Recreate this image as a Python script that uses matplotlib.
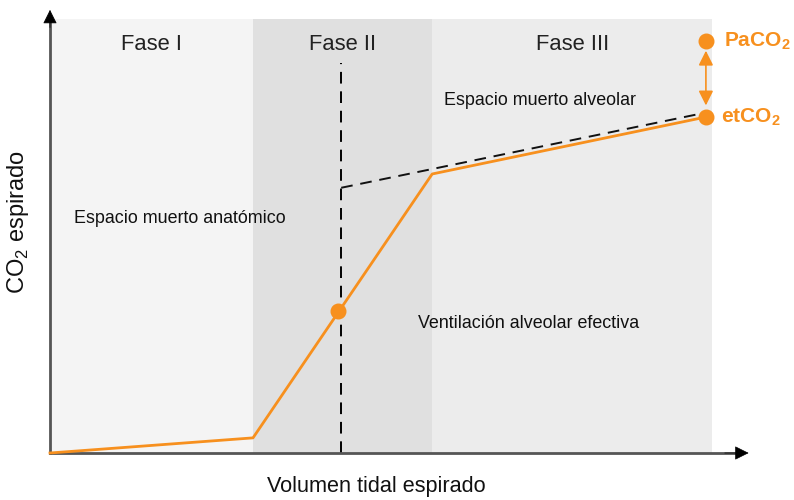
import matplotlib
matplotlib.use("Agg")
import matplotlib.pyplot as plt

plt.rcParams['font.family'] = ['Liberation Sans', 'DejaVu Sans']
plt.rcParams['mathtext.fontset'] = 'custom'
plt.rcParams['mathtext.rm'] = 'Liberation Sans'
plt.rcParams['mathtext.bf'] = 'Liberation Sans:bold'

# phases (volume units, 0..100 along the x axis)
phase_names = ["Fase I", "Fase II", "Fase III"]
phase_edges = [0, 29.0, 54.6, 94.6]
phase_colors = ["#f4f4f4", "#e0e0e0", "#ececec"]
phase_top = 97.5

# capnogram curve
volume = [0, 29.0, 54.6, 93.7]
co2 = [0, 3.4, 62.7, 75.5]

# extrapolated alveolar line and phase II midpoint
alv_x = [41.6, 93.7]
alv_y = [59.6, 76.5]
mid_x, mid_y = 41.1, 31.9
vline_x, vline_top = 41.6, 87.6

etco2 = (93.7, 75.5)
paco2 = (93.7, 92.6)

orange = "#f7901e"

fig = plt.figure(figsize=(7.94, 5.0), dpi=100)
ax = fig.add_axes([0, 0, 1, 1])
ax.set_xlim(-50 / 7, 744 / 7)
ax.set_ylim(-47 / 4.45, 453 / 4.45)
ax.axis("off")

for i, name in enumerate(phase_names):
    x0, x1 = phase_edges[i], phase_edges[i + 1]
    ax.bar(x0, phase_top, width=x1 - x0, align="edge", color=phase_colors[i],
           zorder=0, linewidth=0)
    ax.text((x0 + x1) / 2, 91.9, name, ha="center", va="center", fontsize=15.8,
            color="#222222")

# axes arrows
ax.plot([0, 98], [0, 0], color="#555555", lw=2, zorder=3)
ax.plot([0, 0], [0, 97], color="#555555", lw=2, zorder=3)
ax.annotate("", xy=(100.2, 0), xytext=(96, 0),
            arrowprops=dict(arrowstyle="-|>", color="black", lw=0.5,
                            mutation_scale=22), zorder=4)
ax.annotate("", xy=(0, 100.2), xytext=(0, 95),
            arrowprops=dict(arrowstyle="-|>", color="black", lw=0.5,
                            mutation_scale=22), zorder=4)

# dashed lines
ax.plot([vline_x, vline_x], [0, vline_top], color="black", lw=1.4,
        ls=(0, (6, 4)), zorder=2)
ax.plot(alv_x, alv_y, color="#111111", lw=1.4, ls=(0, (6, 4)), zorder=2)

# curve
ax.plot(volume, co2, color=orange, lw=2, zorder=3)
ax.plot(mid_x, mid_y, "o", color=orange, ms=10.5, zorder=4)
ax.plot(*etco2, "o", color=orange, ms=10.5, zorder=4)
ax.plot(*paco2, "o", color=orange, ms=10.5, zorder=4)
ax.annotate("", xy=(paco2[0], paco2[1] - 2.2), xytext=(etco2[0], etco2[1] + 2.6),
            arrowprops=dict(arrowstyle="<|-|>", color=orange, lw=1.2,
                            mutation_scale=22, shrinkA=0, shrinkB=0), zorder=4)

ax.text(paco2[0] + 2.6, paco2[1], r"PaCO$_\mathbf{2}$", color=orange,
        fontsize=15, fontweight="bold", va="center", ha="left")
ax.text(etco2[0] + 2.2, etco2[1], r"etCO$_\mathbf{2}$", color=orange,
        fontsize=15, fontweight="bold", va="center", ha="left")

# region labels
ax.text(70.0, 79.3, "Espacio muerto alveolar", fontsize=12.9, ha="center",
        va="center", color="#111111")
ax.text(18.6, 52.8, "Espacio muerto anatómico", fontsize=12.9, ha="center",
        va="center", color="#111111")
ax.text(68.3, 29.2, "Ventilación alveolar efectiva", fontsize=12.9,
        ha="center", va="center", color="#111111")

ax.text(46.6, -7.6, "Volumen tidal espirado", fontsize=15.6, ha="center",
        va="center", color="#111111")
ax.text(-4.6, 52.0, r"CO$_2$ espirado", fontsize=17, ha="center",
        va="center", rotation=90, color="#111111")

fig.savefig("out.png", dpi=100)
